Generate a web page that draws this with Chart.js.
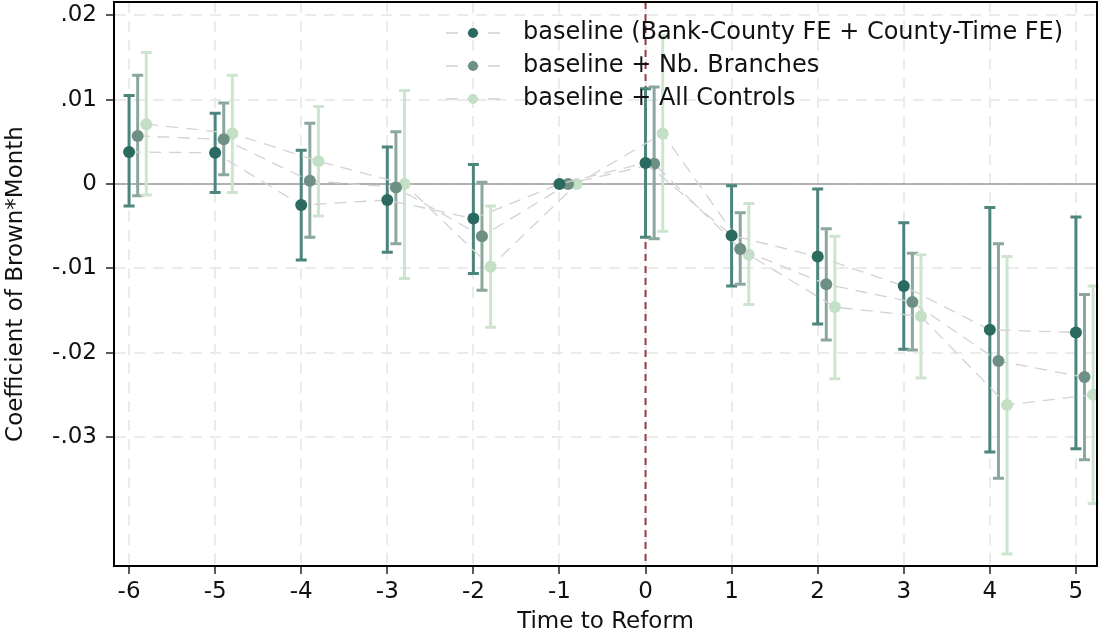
<!DOCTYPE html>
<html>
<head>
<meta charset="utf-8">
<script src="https://cdn.jsdelivr.net/npm/chart.js@4"></script>
<style>
  html, body { margin: 0; padding: 0; background: #fff; }
  #wrap { width: 1109px; height: 636px; }
</style>
</head>
<body>
<div id="wrap"><canvas id="es"></canvas></div>
<script>
// event time
const periods = [-6, -5, -4, -3, -2, -1, 0, 1, 2, 3, 4, 5];

// baseline (Bank-County FE + County-Time FE)
const baseCoef = [0.0038, 0.0037, -0.0025, -0.0019, -0.0041, 0, 0.0025, -0.0061, -0.0086, -0.0121, -0.0173, -0.0176];
const baseLo   = [-0.0026, -0.0010, -0.0090, -0.0081, -0.0106, null, -0.0063, -0.0121, -0.0166, -0.0196, -0.0318, -0.0314];
const baseHi   = [0.0105, 0.0084, 0.0040, 0.0044, 0.0023, null, 0.0113, -0.0002, -0.0006, -0.0046, -0.0028, -0.0039];

// baseline + Nb. Branches
const branchCoef = [0.0057, 0.0053, 0.0004, -0.0004, -0.0062, 0, 0.0024, -0.0077, -0.0119, -0.0140, -0.0210, -0.0229];
const branchLo   = [-0.0014, 0.0011, -0.0063, -0.0071, -0.0126, null, -0.0065, -0.0119, -0.0185, -0.0197, -0.0349, -0.0327];
const branchHi   = [0.0129, 0.0096, 0.0072, 0.0062, 0.0002, null, 0.0115, -0.0034, -0.0053, -0.0082, -0.0071, -0.0131];

// baseline + All Controls
const allCoef = [0.0071, 0.0060, 0.0027, 0.0000, -0.0098, 0, 0.0060, -0.0084, -0.0146, -0.0157, -0.0262, -0.0250];
const allLo   = [-0.0013, -0.0010, -0.0038, -0.0112, -0.0170, null, -0.0056, -0.0143, -0.0231, -0.0230, -0.0439, -0.0379];
const allHi   = [0.0156, 0.0129, 0.0092, 0.0111, -0.0026, null, 0.0176, -0.0023, -0.0062, -0.0084, -0.0086, -0.0121];

const seriesNames = [
  "baseline (Bank-County FE + County-Time FE)",
  "baseline + Nb. Branches",
  "baseline + All Controls"
];

const xTickValues = [-6, -5, -4, -3, -2, -1, 0, 1, 2, 3, 4, 5];
const yTickValues = [-0.03, -0.02, -0.01, 0, 0.01, 0.02];
const yTickLabels = ["-.03", "-.02", "-.01", "0", ".01", ".02"];

const FONT = "'DejaVu Sans', sans-serif";
const shift = 0.1; // horizontal dodge between models
const pointCols = ["#2a6a60", "#6d8f84", "#c3dfc5"];
const barCols = ["#4c857c", "#8ba79e", "#cde5cf"];

const series = [
  { coef: baseCoef, lo: baseLo, hi: baseHi },
  { coef: branchCoef, lo: branchLo, hi: branchHi },
  { coef: allCoef, lo: allLo, hi: allHi }
];

// error bars + reference lines, under the points
const ciPlugin = {
  id: "ciBars",
  beforeDatasetsDraw: (chart) => {
    const ctx = chart.ctx;
    const xs = chart.scales.x, ys = chart.scales.y;
    const area = chart.chartArea;
    ctx.save();
    // zero line
    ctx.strokeStyle = "#9a9a9a";
    ctx.lineWidth = 1.3;
    ctx.beginPath();
    ctx.moveTo(area.left, ys.getPixelForValue(0));
    ctx.lineTo(area.right, ys.getPixelForValue(0));
    ctx.stroke();
    // reform line
    ctx.strokeStyle = "#9b3b40";
    ctx.lineWidth = 2;
    ctx.setLineDash([7, 5]);
    ctx.beginPath();
    ctx.moveTo(xs.getPixelForValue(0), area.top);
    ctx.lineTo(xs.getPixelForValue(0), area.bottom);
    ctx.stroke();
    ctx.setLineDash([]);

    series.forEach((s, k) => {
      ctx.strokeStyle = barCols[k];
      ctx.lineWidth = 3;
      periods.forEach((t, i) => {
        if (s.lo[i] === null || s.hi[i] === null) return;
        const px = xs.getPixelForValue(t + k * shift);
        const y1 = ys.getPixelForValue(s.lo[i]);
        const y2 = ys.getPixelForValue(s.hi[i]);
        ctx.beginPath();
        ctx.moveTo(px, y1); ctx.lineTo(px, y2);
        ctx.moveTo(px - 5.5, y1); ctx.lineTo(px + 5.5, y1);
        ctx.moveTo(px - 5.5, y2); ctx.lineTo(px + 5.5, y2);
        ctx.stroke();
      });
    });
    ctx.restore();
  }
};

// frame + legend inside the plot
const frameLegendPlugin = {
  id: "frameLegend",
  afterDraw: (chart) => {
    const ctx = chart.ctx;
    const a = chart.chartArea;
    ctx.save();
    ctx.strokeStyle = "#000";
    ctx.lineWidth = 2;
    ctx.strokeRect(a.left, a.top, a.right - a.left, a.bottom - a.top);

    const lx = a.left + 359;
    seriesNames.forEach((name, k) => {
      const ly = a.top + 31 + k * 33;
      ctx.strokeStyle = "#dcdcdc";
      ctx.lineWidth = 2;
      ctx.setLineDash([12, 9]);
      ctx.beginPath();
      ctx.moveTo(lx - 27, ly); ctx.lineTo(lx + 27, ly);
      ctx.stroke();
      ctx.setLineDash([]);
      ctx.fillStyle = pointCols[k];
      ctx.beginPath();
      ctx.arc(lx, ly, 5, 0, Math.PI * 2);
      ctx.fill();
      ctx.fillStyle = "#111";
      ctx.font = "24px " + FONT;
      ctx.textAlign = "left";
      ctx.textBaseline = "middle";
      ctx.fillText(name, lx + 50, ly);
    });
    ctx.restore();
  }
};

const datasets = series.map((s, k) => ({
  label: seriesNames[k],
  data: periods.map((t, i) => ({ x: t + k * shift, y: s.coef[i] })),
  showLine: true,
  borderColor: "#d2d2d2",
  borderWidth: 1.3,
  borderDash: [12, 8],
  pointRadius: 6,
  pointBackgroundColor: pointCols[k],
  pointBorderColor: pointCols[k],
  pointBorderWidth: 0,
  tension: 0
}));

new Chart(document.getElementById("es"), {
  type: "line",
  data: { datasets },
  options: {
    responsive: true,
    maintainAspectRatio: false,
    animation: false,
    layout: { autoPadding: false, padding: { top: 2, right: 12, left: 0, bottom: 0 } },
    plugins: {
      legend: { display: false },
      tooltip: { enabled: false },
      title: { display: false }
    },
    scales: {
      x: {
        type: "linear",
        min: -6.175,
        max: 5.245,
        afterBuildTicks: (scale) => { scale.ticks = xTickValues.map(v => ({ value: v })); },
        afterFit: (scale) => { scale.height = 70; scale.paddingLeft = 0; scale.paddingRight = 0; },
        ticks: {
          color: "#111",
          font: { family: FONT, size: 23 },
          padding: 4,
          maxRotation: 0,
          callback: (v) => String(v)
        },
        grid: {
          color: "#ebebeb",
          lineWidth: 2,
          tickColor: "#222",
          tickLength: 8,
          tickWidth: 1.5
        },
        border: { color: "#000", width: 2, dash: [11, 8] },
        title: {
          display: true,
          text: "Time to Reform",
          color: "#111",
          font: { family: FONT, size: 23 },
          padding: { top: 2, bottom: 0 }
        }
      },
      y: {
        min: -0.04531,
        max: 0.02159,
        afterBuildTicks: (scale) => { scale.ticks = yTickValues.map(v => ({ value: v })); },
        afterFit: (scale) => { scale.width = 114; scale.paddingTop = 0; scale.paddingBottom = 0; },
        ticks: {
          color: "#111",
          font: { family: FONT, size: 23 },
          padding: 9,
          callback: (v, i) => yTickLabels[i]
        },
        grid: {
          color: "#ebebeb",
          lineWidth: 2,
          tickColor: "#222",
          tickLength: 8,
          tickWidth: 1.5
        },
        border: { color: "#000", width: 2, dash: [11, 8] },
        title: {
          display: true,
          text: "Coefficient of Brown*Month",
          color: "#111",
          font: { family: FONT, size: 23 },
          padding: { top: 2, bottom: 4 }
        }
      }
    }
  },
  plugins: [ciPlugin, frameLegendPlugin]
});
</script>
</body>
</html>
